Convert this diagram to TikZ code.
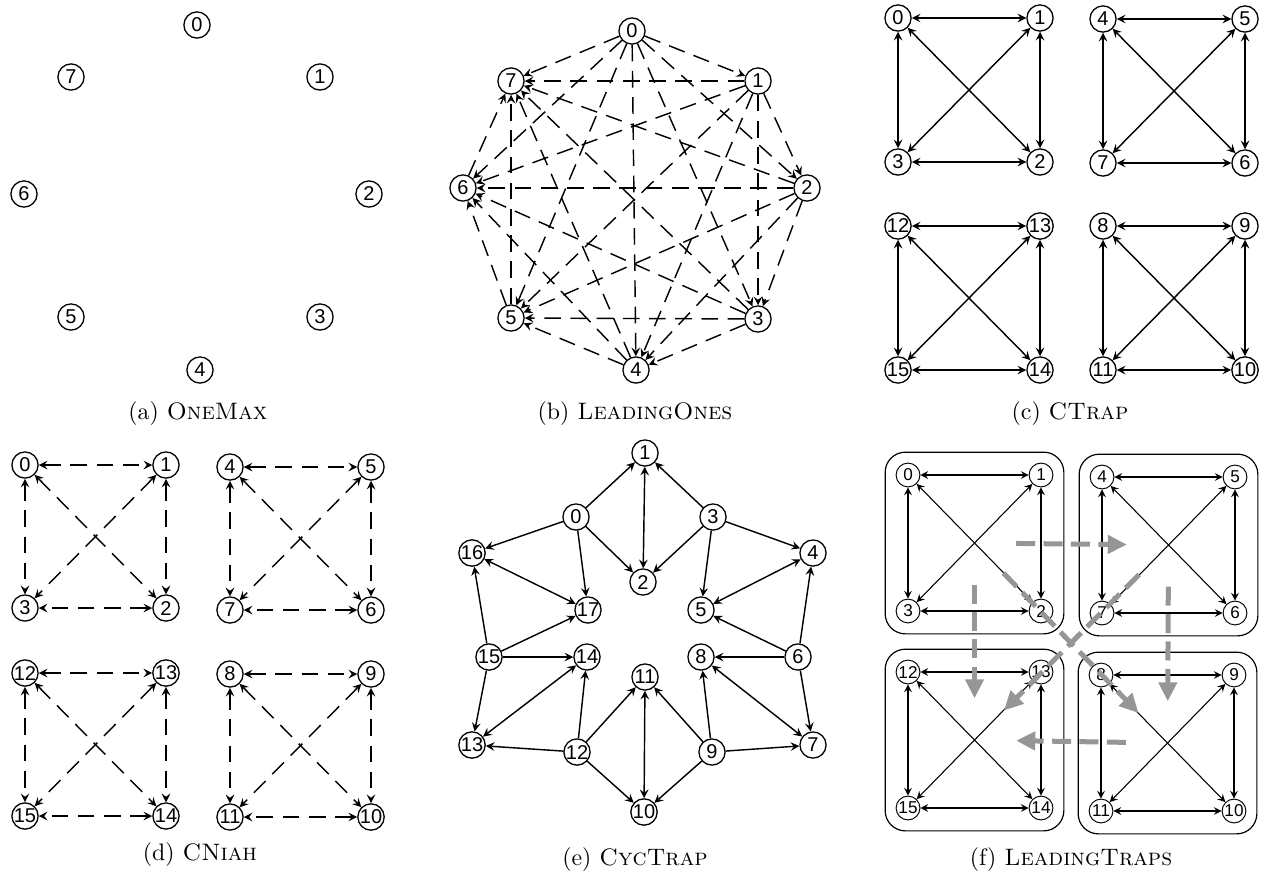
\documentclass[tikz,border=0pt]{standalone}
\usepackage{fontspec}
\newfontfamily\vfont{Liberation Sans}
\usetikzlibrary{arrows.meta,fit}
\definecolor{trapgray}{RGB}{150,150,150}

\tikzset{
	vert/.style={circle,draw,line width=0.55pt,inner sep=0pt,minimum size=11pt,font=\vfont\fontsize{8.4}{9}\selectfont},
	smallvert/.style={vert,line width=0.4pt,minimum size=10pt,font=\vfont\fontsize{7.2}{8}\selectfont},
	solidedge/.style={line width=0.6pt},
	dashedge/.style={line width=0.6pt,dash pattern=on 7pt off 4pt},
	thinedge/.style={line width=0.45pt},
	trapbox/.style={draw,rounded corners=8.5pt,line width=0.5pt,inner sep=4.4pt},
	traparrow/.style={trapgray,line width=2.1pt,dash pattern=on 8pt off 3.5pt,-{Triangle[length=8pt,width=7.5pt]},shorten <=17.5pt,shorten >=17.5pt},
	caption/.style={font=\normalsize}
}

\begin{document}
\begin{tikzpicture}[x=0.42pt,y=-0.42pt]
	\useasboundingbox (0,0) rectangle (1270,880);

	% (a)
	\node[vert] (a0) at (197,25) {0};
	\node[vert] (a1) at (320,77) {1};
	\node[vert] (a2) at (369,194) {2};
	\node[vert] (a3) at (320,317) {3};
	\node[vert] (a4) at (200,370) {4};
	\node[vert] (a5) at (71,317) {5};
	\node[vert] (a6) at (24,194) {6};
	\node[vert] (a7) at (71,77) {7};
	\node[caption] (capa) at (198,414) {(a) \textsc{OneMax}};

	% (b)
	\node[vert] (b0) at (632,31) {0};
	\node[vert] (b1) at (758,81) {1};
	\node[vert] (b2) at (807,188) {2};
	\node[vert] (b3) at (758,319) {3};
	\node[vert] (b4) at (636,370) {4};
	\node[vert] (b5) at (511,318) {5};
	\node[vert] (b6) at (463,188) {6};
	\node[vert] (b7) at (511,81) {7};
	\foreach \i in {0,...,6}{
		\pgfmathtruncatemacro\inext{\i+1}
		\foreach \j in {\inext,...,7}
			\draw[dashedge,-stealth] (b\i)--(b\j);
	}
	\node[caption] (capb) at (635,414) {(b) \textsc{LeadingOnes}};

	% (c)
	\foreach \g/\gx/\gy in {0/898/18,4/1103/19,8/1103/226,12/898/226}{
		\pgfmathtruncatemacro\vB{\g+1}
		\pgfmathtruncatemacro\vC{\g+2}
		\pgfmathtruncatemacro\vD{\g+3}
		\node[vert] (c\g) at (\gx,\gy) {\g};
		\node[vert] (c\vB) at (\gx+142,\gy) {\vB};
		\node[vert] (c\vC) at (\gx+142,\gy+144) {\vC};
		\node[vert] (c\vD) at (\gx,\gy+144) {\vD};
		\foreach \p/\q in {\g/\vB,\g/\vC,\g/\vD,\vB/\vC,\vB/\vD,\vC/\vD}
			\draw[solidedge,stealth-stealth] (c\p)--(c\q);
	}
	\node[caption] (capc) at (1070,414) {(c) \textsc{CTrap}};

	% (d)
	\foreach \g/\gx/\gy in {0/25/465,4/230/467,8/230/674,12/25/673}{
		\pgfmathtruncatemacro\vB{\g+1}
		\pgfmathtruncatemacro\vC{\g+2}
		\pgfmathtruncatemacro\vD{\g+3}
		\node[vert] (d\g) at (\gx,\gy) {\g};
		\node[vert] (d\vB) at (\gx+141,\gy) {\vB};
		\node[vert] (d\vC) at (\gx+141,\gy+143) {\vC};
		\node[vert] (d\vD) at (\gx,\gy+143) {\vD};
		\foreach \p/\q in {\g/\vB,\g/\vC,\g/\vD,\vB/\vC,\vB/\vD,\vC/\vD}
			\draw[dashedge,stealth-stealth] (d\p)--(d\q);
	}
	\node[caption] (capd) at (200,855) {(d) \textsc{CNiah}};

	% (e)
	\node[vert] (e0) at (576,517) {0};
	\node[vert] (e1) at (645,453) {1};
	\node[vert] (e2) at (643,582) {2};
	\node[vert] (e3) at (713,517) {3};
	\node[vert] (e4) at (813,553) {4};
	\node[vert] (e5) at (701,610) {5};
	\node[vert] (e6) at (798,657) {6};
	\node[vert] (e7) at (813,745) {7};
	\node[vert] (e8) at (701,657) {8};
	\node[vert] (e9) at (712,752) {9};
	\node[vert] (e10) at (644,812) {10};
	\node[vert] (e11) at (645,677) {11};
	\node[vert] (e12) at (577,752) {12};
	\node[vert] (e13) at (472,745) {13};
	\node[vert] (e14) at (587,657) {14};
	\node[vert] (e15) at (489,657) {15};
	\node[vert] (e16) at (472,553) {16};
	\node[vert] (e17) at (588,610) {17};
	\foreach \p/\q in {0/1,0/2,0/16,0/17,3/1,3/2,3/4,3/5,15/16,15/17,15/14,15/13,
			12/13,12/14,12/11,12/10,9/11,9/10,9/8,9/7,6/4,6/5,6/8,6/7}
		\draw[solidedge,-stealth] (e\p)--(e\q);
	\foreach \p/\q in {1/2,16/17,4/5,13/14,11/10,8/7}
		\draw[solidedge,stealth-stealth] (e\p)--(e\q);
	\node[caption] (cape) at (635,860) {(e) \textsc{CycTrap}};

	% (f)
	\foreach \g/\gx/\gy in {0/908/475,4/1102/477,8/1101/675,12/908/672}{
		\pgfmathtruncatemacro\vB{\g+1}
		\pgfmathtruncatemacro\vC{\g+2}
		\pgfmathtruncatemacro\vD{\g+3}
		\node[smallvert] (f\g) at (\gx,\gy) {\g};
		\node[smallvert] (f\vB) at (\gx+133,\gy) {\vB};
		\node[smallvert] (f\vC) at (\gx+133,\gy+136) {\vC};
		\node[smallvert] (f\vD) at (\gx,\gy+136) {\vD};
		\foreach \p/\q in {\g/\vB,\g/\vC,\g/\vD,\vB/\vC,\vB/\vD,\vC/\vD}
			\draw[thinedge,stealth-stealth] (f\p)--(f\q);
		\node[trapbox,fit=(f\g)(f\vC)] (box\g) {};
	}
	\draw[traparrow] (box0.center)--(box4.center);
	\draw[traparrow] (box0.center)--(box12.center);
	\draw[traparrow] (box4.center)--(box8.center);
	\draw[traparrow] (box8.center)--(box12.center);
	\draw[traparrow] (box4.center)--(box12.center);
	\draw[traparrow] (box0.center)--(box8.center);
	\node[caption] (capf) at (1071,860) {(f) \textsc{LeadingTraps}};
\end{tikzpicture}
\end{document}
